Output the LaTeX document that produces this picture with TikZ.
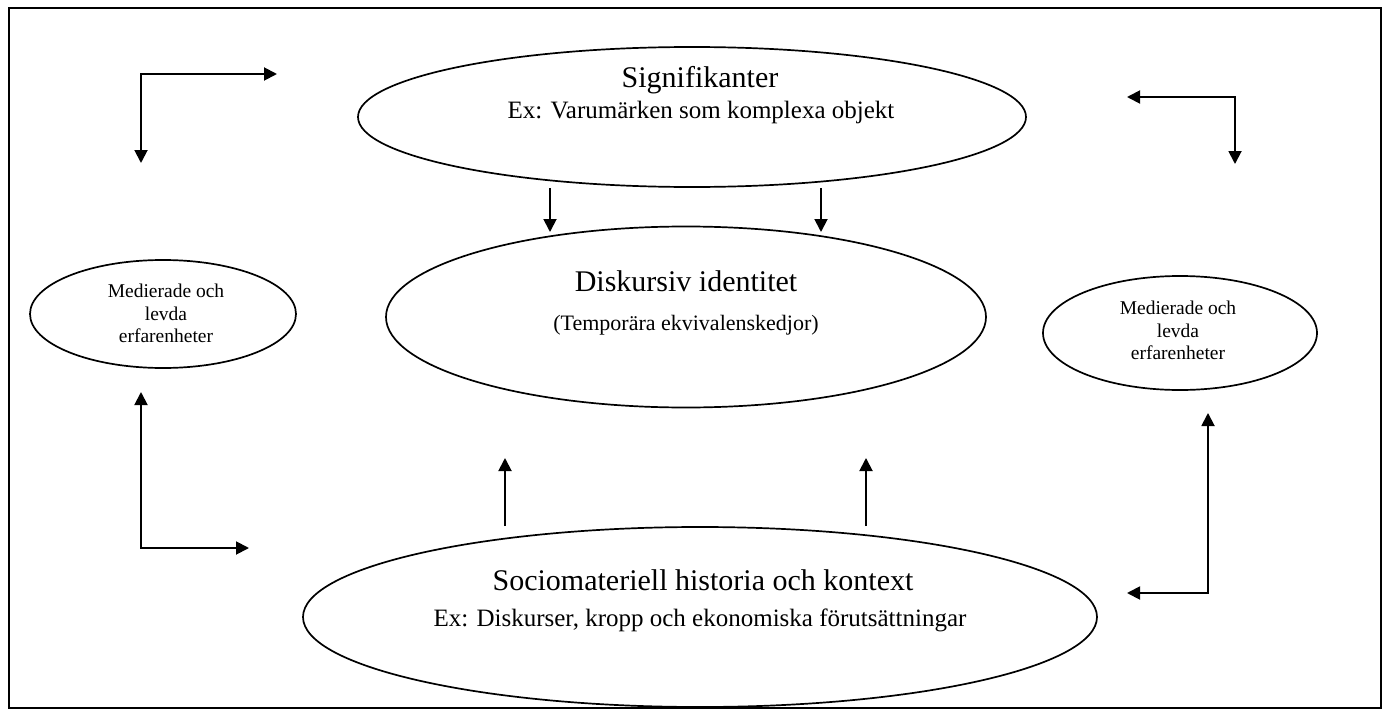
\documentclass[tikz,border=0pt]{standalone}
\usepackage{fontspec}
\setmainfont{Liberation Serif}
\usepackage{tikz}
\usetikzlibrary{arrows.meta,positioning,shapes.geometric}
\tikzset{
  bigoval/.style={draw=black,ellipse,line width=1.7pt,inner sep=0pt},
  smalloval/.style={draw=black,ellipse,line width=1.7pt,inner sep=0pt},
  ovaltext/.style={anchor=base,inner sep=0pt},
  sidetext/.style={anchor=base,inner sep=0pt,font=\fontsize{19.5}{23}\selectfont},
  flowarr/.style={-{Triangle[length=13pt,width=13pt]},line width=1.9pt},
  twoarr/.style={{Triangle[length=13pt,width=13pt]}-{Triangle[length=13pt,width=13pt]},
                 line width=1.9pt},
  titlefont/.style={font=\fontsize{30}{34}\selectfont},
  subfont/.style={font=\fontsize{25}{29}\selectfont}
}
\begin{document}
\begin{tikzpicture}[x=1pt,y=-1pt]
    \path[use as bounding box] (0,0) rectangle (1390,717);
    \draw[line width=1.4pt] (9,8) rectangle (1381,708);

    % the three main ovals
    \node[bigoval,minimum width=668pt,minimum height=140pt] (sig) at (692,117) {};
    \node[ovaltext,titlefont] (sigtitle) at (700,88) {Signifikanter};
    \node[ovaltext,subfont] (sigsub) at (701,118) {Ex: Varumärken som komplexa objekt};

    \node[bigoval,minimum width=600pt,minimum height=181pt] (disk) at (686,317) {};
    \node[ovaltext,titlefont] (disktitle) at (686,291) {Diskursiv identitet};
    \node[ovaltext,font=\fontsize{22}{26}\selectfont] (disksub) at (686,330)
      {(Temporära ekvivalenskedjor)};

    \node[bigoval,minimum width=794pt,minimum height=180pt] (socio) at (700,617) {};
    \node[ovaltext,titlefont] (sociotitle) at (703,590) {Sociomateriell historia och kontext};
    \node[ovaltext,subfont] (sociosub) at (700,626) {Ex: Diskurser, kropp och ekonomiska förutsättningar};

    % side ovals
    \node[smalloval,minimum width=266pt,minimum height=108pt] (medl) at (163,314) {};
    \node[sidetext] (medla) at (166,297) {Medierade och};
    \node[sidetext] (medlb) at (166,320) {levda};
    \node[sidetext] (medlc) at (166,342) {erfarenheter};

    \node[smalloval,minimum width=274pt,minimum height=114pt] (medr) at (1180,333) {};
    \node[sidetext] (medra) at (1178,314) {Medierade och};
    \node[sidetext] (medrb) at (1178,337) {levda};
    \node[sidetext] (medrc) at (1178,359) {erfarenheter};

    % corner arrows
    \coordinate (tlend) at (141,163);
    \coordinate (tlcorner) at (141,74);
    \coordinate (tltip) at (277,74);
    \draw[twoarr] (tlend) -- (tlcorner) -- (tltip);

    \coordinate (trtip) at (1127,97);
    \coordinate (trcorner) at (1235,97);
    \coordinate (trend) at (1235,164);
    \draw[twoarr] (trtip) -- (trcorner) -- (trend);

    \coordinate (bltip) at (141,392);
    \coordinate (blcorner) at (141,548);
    \coordinate (blend) at (249,548);
    \draw[twoarr] (bltip) -- (blcorner) -- (blend);

    \coordinate (brtip) at (1208,413);
    \coordinate (brcorner) at (1208,593);
    \coordinate (brend) at (1127,593);
    \draw[twoarr] (brtip) -- (brcorner) -- (brend);

    % straight arrows between ovals
    \coordinate (da) at (550,188);
    \coordinate (db) at (550,232);
    \coordinate (dc) at (821,188);
    \coordinate (dd) at (821,232);
    \draw[flowarr] (da) -- (db);
    \draw[flowarr] (dc) -- (dd);

    \coordinate (ua) at (505,526);
    \coordinate (ub) at (505,458);
    \coordinate (uc) at (866,526);
    \coordinate (ud) at (866,458);
    \draw[flowarr] (ua) -- (ub);
    \draw[flowarr] (uc) -- (ud);
\end{tikzpicture}
\end{document}
